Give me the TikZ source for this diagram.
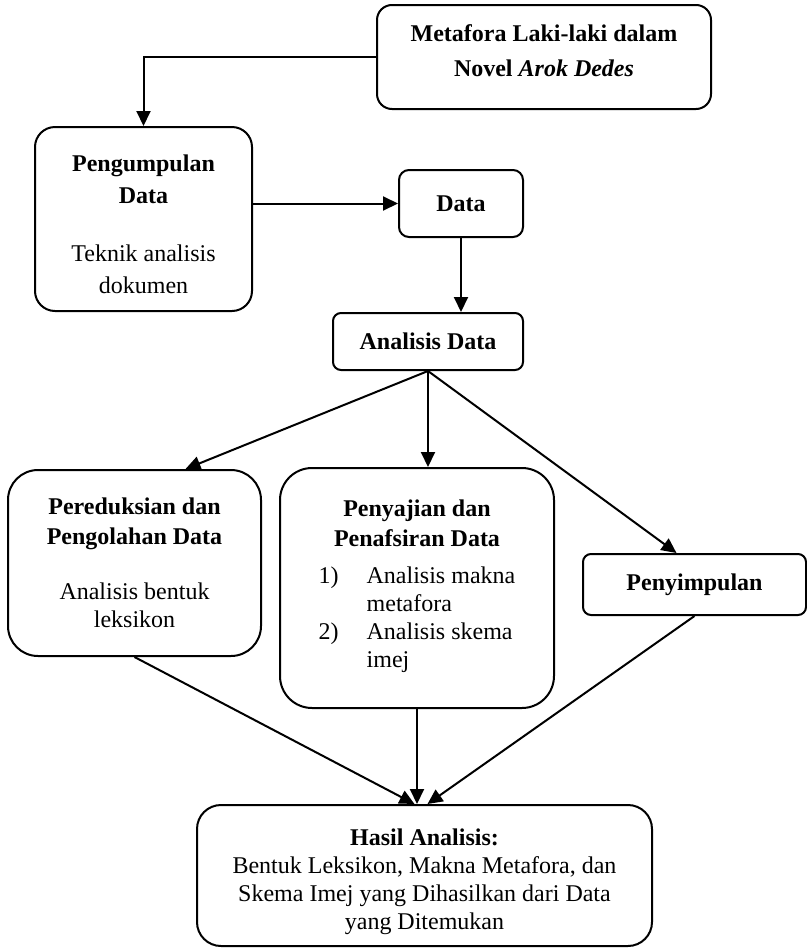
\documentclass[tikz,border=0pt]{standalone}
\usepackage{fontspec}
\setmainfont{Liberation Serif}
\usetikzlibrary{calc,arrows.meta}
\tikzset{
  box/.style   = { draw, black, line width=1pt, rounded corners=#1, align=center,
                   inner sep=0pt, font=\fontsize{12}{14}\selectfont },
  box/.default = 6pt,
  flow/.style  = { line width=1pt, black, -{Triangle[length=7.5pt,width=7pt]} },
}

\begin{document}
\begin{tikzpicture}[x=0.5pt,y=-0.5pt]
    \useasboundingbox (0,0) rectangle (807,948);

    % Draw all boxes
    % Objek
    \node[box=7.5pt, minimum width=167pt, minimum height=52pt] (meta) at (544,57)
        {\textbf{Metafora Laki-laki dalam}\\[3.5pt]\textbf{Novel \textit{Arok Dedes}}\rule[-6pt]{0pt}{1pt}};

    % Pengumpulan
    \node[box=10pt, minimum width=108.5pt, minimum height=92pt] (kumpul) at (143.5,219)
        {\rule{0pt}{13.5pt}\textbf{Pengumpulan}\\[2pt]\textbf{Data}\\[15pt]Teknik analisis\\[2pt]dokumen};
    \node[box=5pt, minimum width=62pt, minimum height=33.5pt] (data) at (461,203.5) {\textbf{Data}};

    % Analisis
    \node[box=4pt, minimum width=95pt, minimum height=28.5pt] (analisis) at (428,341.5) {\textbf{Analisis Data}};

    \node[box=15pt, minimum width=126.5pt, minimum height=93pt] (reduksi) at (134.5,563)
        {\textbf{Pereduksian dan}\\[1pt]\textbf{Pengolahan Data}\\[13.5pt]Analisis bentuk\\leksikon};
    \node[box=16pt, minimum width=137pt, minimum height=120pt] (sajian) at (417,588)
        {\textbf{Penyajian dan}\\[1pt]\textbf{Penafsiran Data}\\[7.5pt]
         \begin{tabular}{@{}p{24pt}@{}l@{}}
           1) & Analisis makna\\
              & metafora\\
           2) & Analisis skema\\
              & imej
         \end{tabular}};
    \node[box=4pt, minimum width=111.5pt, minimum height=30.5pt] (simpul) at (694.5,584.5) {\textbf{Penyimpulan}};

    % Hasil
    \node[box=12pt, minimum width=227.5pt, minimum height=70.5pt] (hasil) at (424.5,875.5)
        {\rule{0pt}{15pt}\textbf{Hasil Analisis:}\\Bentuk Leksikon, Makna Metafora, dan\\Skema Imej yang Dihasilkan dari Data\\yang Ditemukan};

    % connect boxes
    \draw[flow] (meta.west) -| (kumpul.north);
    \draw[flow] (kumpul.east |- data.west) -- (data.west);
    \draw[flow] (data.south) -- (data.south |- analisis.north);

    \draw[flow] (analisis.south) -- ($(reduksi.north west)!0.7!(reduksi.north east)$);
    \draw[flow] (analisis.south) -- (analisis.south |- sajian.north);
    \draw[flow] (analisis.south) -- ($(simpul.north west)!0.42!(simpul.north east)$);

    \draw[flow] (reduksi.south) -- ($(hasil.north)+(-10,0)$);
    \draw[flow] (sajian.south) -- (sajian.south |- hasil.north);
    \draw[flow] (simpul.south) -- ($(hasil.north)+(3,0)$);
\end{tikzpicture}
\end{document}
